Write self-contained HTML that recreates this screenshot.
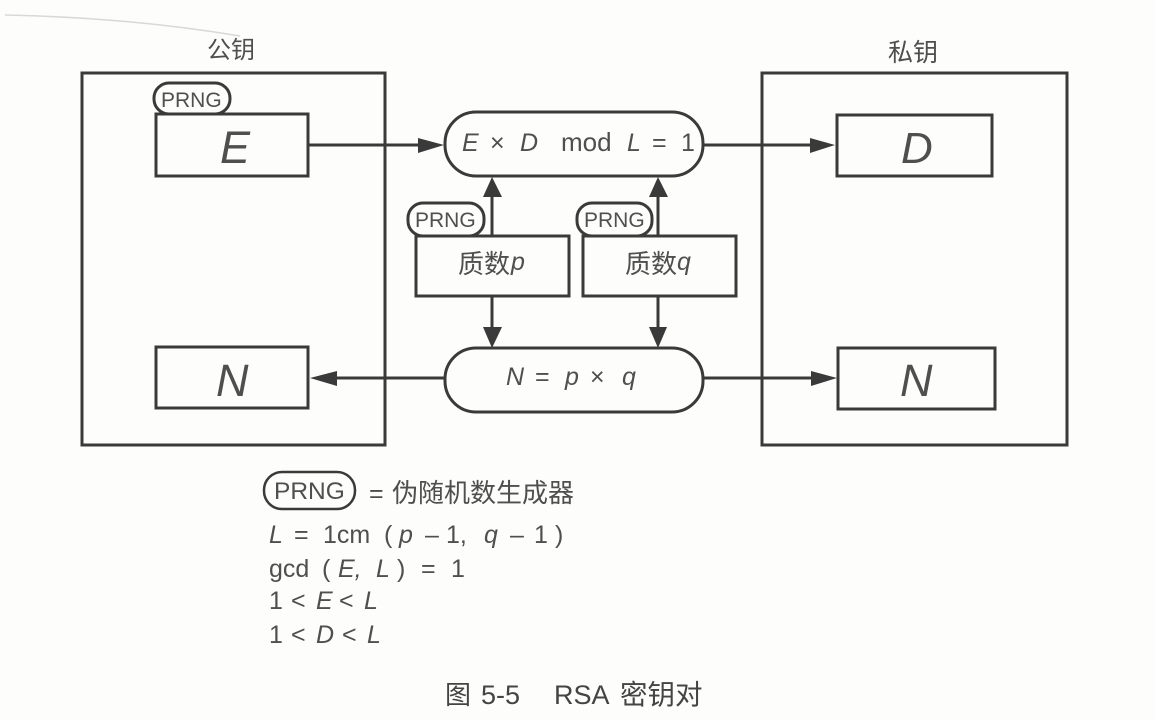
<!DOCTYPE html>
<html><head><meta charset="utf-8"><style>
html,body{margin:0;padding:0;background:#fdfdfb}
svg{display:block}
text{font-family:"Liberation Sans","Noto Sans CJK SC",sans-serif;fill:#4f4f4f}
.i{font-style:italic}
</style></head><body>
<svg width="1155" height="720" viewBox="0 0 1155 720" xmlns="http://www.w3.org/2000/svg">
<rect width="1155" height="720" fill="#fdfdfb"/>
<path d="M5 15 Q60 16 120 21 T240 36" stroke="#d8d8d8" stroke-width="1.5" fill="none"/>
<g fill="none" stroke="#3a3a3a" stroke-width="3">
<rect x="82" y="73" width="303" height="372"/>
<rect x="762" y="73" width="305" height="372"/>
<rect x="154" y="83" width="76" height="31" rx="15"/>
<rect x="408" y="203" width="76" height="33" rx="15"/>
<rect x="577" y="203" width="75" height="33" rx="15"/>
<rect x="156" y="114" width="152" height="62" fill="#fdfdfb"/>
<rect x="837" y="115" width="155" height="61"/>
<rect x="156" y="347" width="152" height="61"/>
<rect x="838" y="348" width="157" height="61"/>
<rect x="416" y="236" width="153" height="60" fill="#fdfdfb"/>
<rect x="583" y="236" width="153" height="60" fill="#fdfdfb"/>
<rect x="445" y="112" width="258" height="64" rx="31"/>
<rect x="445" y="348" width="258" height="64" rx="31"/>
<rect x="264" y="472" width="91" height="37" rx="18" stroke-width="2.5"/>
<path d="M309 145H420M703 145H812M492 236V195M658 236V195M492 296V329M658 296V329M335 378H445M703 378H813"/>
</g>
<g fill="#3a3a3a">
<path d="M444 145L418 138V153Z"/>
<path d="M835 145L810 138V153Z"/>
<path d="M492 177L483 197H502Z"/>
<path d="M658 177L649 197H668Z"/>
<path d="M492 348L483 327H502Z"/>
<path d="M658 348L649 327H667Z"/>
<path d="M310 378L337 371V386Z"/>
<path d="M837 378L811 371V386Z"/>
</g>
<text x="207" y="58" font-size="24">公钥</text>
<text x="888" y="61" font-size="25">私钥</text>
<g font-size="21">
<text x="161" y="107">PRNG</text>
<text x="415" y="227">PRNG</text>
<text x="584" y="227">PRNG</text>
</g>
<g font-size="45" class="i">
<text x="220" y="163">E</text>
<text x="901" y="163" font-size="44">D</text>
<text x="216" y="396">N</text>
<text x="900" y="396">N</text>
</g>
<g font-size="25">
<text x="462" y="151" class="i">E</text>
<text x="490" y="151">×</text>
<text x="520" y="151" class="i">D</text>
<text x="561" y="151" font-size="26">mod</text>
<text x="627" y="151" class="i">L</text>
<text x="652" y="151">=</text>
<text x="681" y="151">1</text>
<text x="458" y="273" font-size="26">质数</text>
<text x="511" y="270" class="i">p</text>
<text x="625" y="273" font-size="26">质数</text>
<text x="677" y="270" class="i">q</text>
<text x="506" y="385" class="i">N</text>
<text x="535" y="385">=</text>
<text x="565" y="385" class="i">p</text>
<text x="590" y="385">×</text>
<text x="622" y="385" class="i">q</text>
<text x="274" y="499" font-size="24.5">PRNG</text>
<text x="369" y="502">=</text>
<text x="392" y="502" font-size="26">伪随机数生成器</text>
<text x="269" y="543" class="i">L</text>
<text x="294" y="543">=</text>
<text x="323" y="543">1cm</text>
<text x="384" y="543">(</text>
<text x="399" y="543" class="i">p</text>
<text x="425" y="543">–</text>
<text x="446" y="543">1,</text>
<text x="484" y="543" class="i">q</text>
<text x="510" y="543">–</text>
<text x="534" y="543">1</text>
<text x="555" y="543">)</text>
<text x="269" y="577">gcd</text>
<text x="322" y="577">(</text>
<text x="338" y="577" class="i">E,</text>
<text x="376" y="577" class="i">L</text>
<text x="397" y="577">)</text>
<text x="421" y="577">=</text>
<text x="451" y="577">1</text>
<text x="269" y="609">1</text>
<text x="291" y="609">&lt;</text>
<text x="316" y="609" class="i">E</text>
<text x="339" y="609">&lt;</text>
<text x="364" y="609" class="i">L</text>
<text x="269" y="643">1</text>
<text x="291" y="643">&lt;</text>
<text x="316" y="643" class="i">D</text>
<text x="342" y="643">&lt;</text>
<text x="367" y="643" class="i">L</text>
<text x="445" y="704" font-size="26" style="fill:#444">图</text>
<text x="481" y="704" font-size="27" style="fill:#444">5-5</text>
<text x="554" y="704" font-size="27" style="fill:#444">RSA</text>
<text x="620" y="704" font-size="27.5" style="fill:#444">密钥对</text>
</g>
</svg>
</body></html>
